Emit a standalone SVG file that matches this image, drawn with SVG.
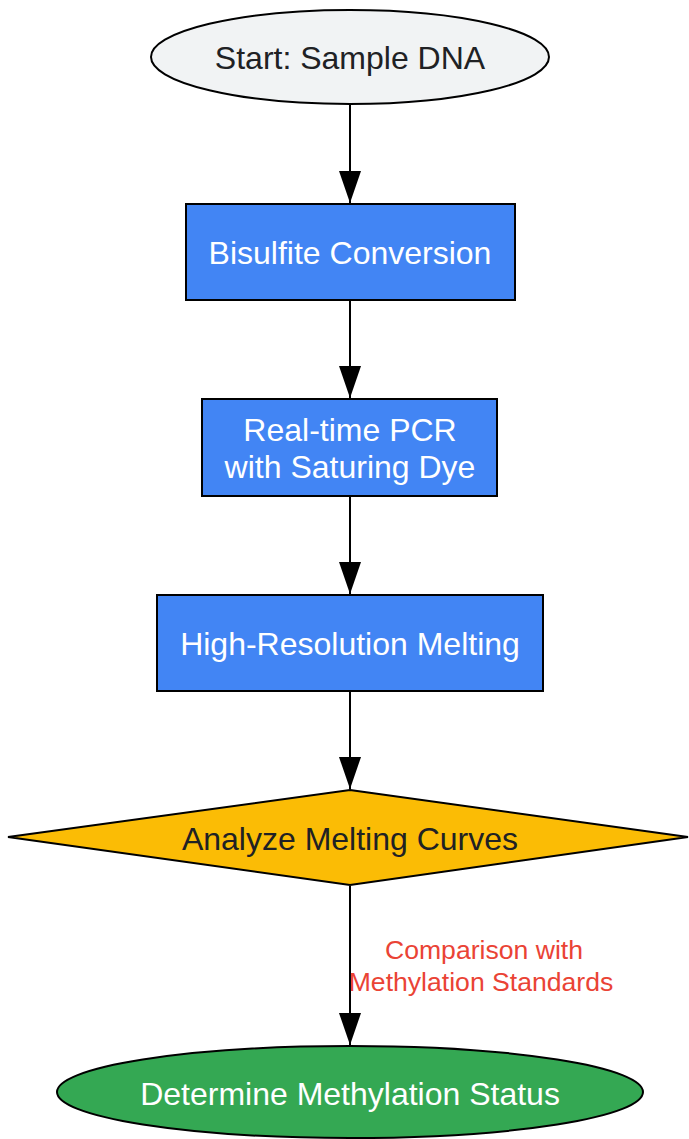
<svg xmlns="http://www.w3.org/2000/svg" width="689" height="1139" viewBox="0 0 689 1139">
<defs>
<marker id="arr" markerUnits="userSpaceOnUse" markerWidth="32" markerHeight="22" refX="32" refY="11" orient="auto">
<path d="M0,0 L32,11 L0,22 z" fill="#000"/>
</marker>
<style>
.shape{stroke:#000;stroke-width:2}
.t{font-family:"Liberation Sans",Arial,sans-serif;font-size:32px;text-anchor:middle}
.dark{fill:#202124}
.light{fill:#ffffff}
.edge{stroke:#000;stroke-width:2;fill:none;marker-end:url(#arr)}
.lbl{font-family:"Liberation Sans",Arial,sans-serif;font-size:26.6px;text-anchor:middle;fill:#EA4335}
</style>
</defs>
<rect width="689" height="1139" fill="#ffffff"/>
<g id="connectors">
<line class="edge" x1="350" y1="105" x2="350" y2="203"/>
<line class="edge" x1="350" y1="301" x2="350" y2="398"/>
<line class="edge" x1="350" y1="497" x2="350" y2="594"/>
<line class="edge" x1="350" y1="692" x2="350" y2="789"/>
<line class="edge" x1="350" y1="886" x2="350" y2="1045"/>
<text class="lbl" x="484" y="959">Comparison with</text>
<text class="lbl" x="481" y="991">Methylation Standards</text>
</g>
<g id="start">
<ellipse class="shape" cx="350" cy="57" rx="199" ry="47" fill="#F1F3F4"/>
<text class="t dark" x="350" y="69">Start: Sample DNA</text>
</g>
<g id="bisulfite">
<rect class="shape" x="186" y="204" width="329" height="96" fill="#4285F4"/>
<text class="t light" x="350" y="264">Bisulfite Conversion</text>
</g>
<g id="pcr">
<rect class="shape" x="202" y="399" width="295" height="97" fill="#4285F4"/>
<text class="t light" x="350" y="441">Real-time PCR</text>
<text class="t light" x="350" y="478">with Saturing Dye</text>
</g>
<g id="hrm">
<rect class="shape" x="157" y="595" width="386" height="96" fill="#4285F4"/>
<text class="t light" x="350" y="655">High-Resolution Melting</text>
</g>
<g id="analyze">
<polygon class="shape" points="350,790 688,837 350,885 8,837" fill="#FBBC05"/>
<text class="t dark" x="350" y="850">Analyze Melting Curves</text>
</g>
<g id="determine">
<ellipse class="shape" cx="350" cy="1092" rx="293" ry="46" fill="#34A853"/>
<text class="t light" x="350" y="1105">Determine Methylation Status</text>
</g>
</svg>
